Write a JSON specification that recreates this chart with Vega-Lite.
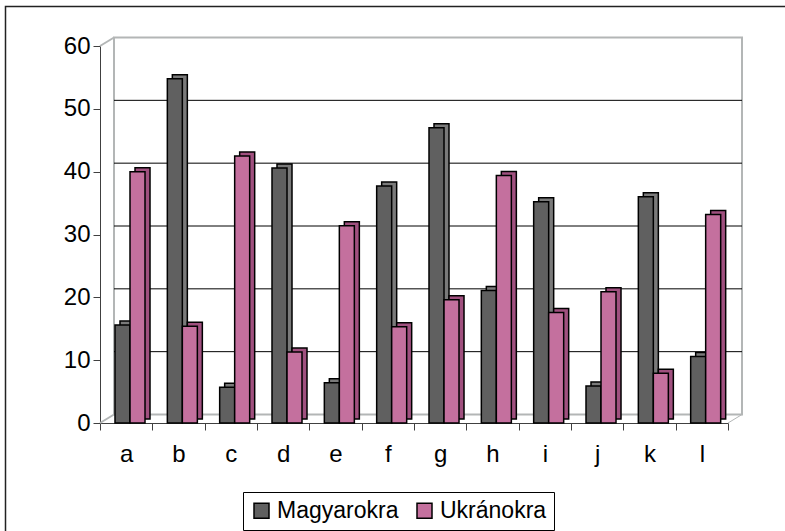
{
  "$schema": "https://vega.github.io/schema/vega-lite/v6.json",
  "autosize": {"type": "none"},
  "width": 628,
  "height": 377,
  "padding": {"left": 100, "top": 46, "right": 57, "bottom": 108},
  "background": "white",
  "config": {
    "view": {"stroke": null},
    "font": "Liberation Sans",
    "axis": {"labelFont": "Liberation Sans", "labelColor": "black", "labelFontSize": 24},
    "legend": {"labelFont": "Liberation Sans", "labelFontSize": 23}
  },
  "layer": [
    {
      "data": {"values": [{}]},
      "layer": [
        {
          "mark": {"type": "rect", "fill": null, "stroke": "#222222", "strokeWidth": 1.5, "xOffset": -94.5, "x2Offset": 120, "yOffset": 200, "y2Offset": -39.5},
          "encoding": {
            "x": {"datum": 0, "type": "quantitative", "scale": {"domain": [0, 1], "nice": false}, "axis": null},
            "x2": {"datum": 1},
            "y": {"datum": 0, "type": "quantitative"},
            "y2": {"datum": 60}
          }
        },
        {
          "mark": {"type": "rect", "fill": "white", "stroke": "#b3b6b6", "strokeWidth": 2, "xOffset": 14, "x2Offset": 14, "yOffset": -8.5, "y2Offset": -8.5},
          "encoding": {
            "x": {"datum": 0, "type": "quantitative"},
            "x2": {"datum": 1},
            "y": {"datum": 0, "type": "quantitative"},
            "y2": {"datum": 60}
          }
        },
        {
          "data": {"values": [{"v": 10}, {"v": 20}, {"v": 30}, {"v": 40}, {"v": 50}]},
          "mark": {"type": "rule", "color": "black", "strokeWidth": 1, "xOffset": 14, "x2Offset": 14, "yOffset": -8.5, "y2Offset": -8.5},
          "encoding": {
            "x": {"datum": 0, "type": "quantitative"},
            "x2": {"datum": 1},
            "y": {"field": "v", "type": "quantitative"},
            "y2": {"field": "v"}
          }
        },
        {
          "mark": {"type": "rule", "color": "#b3b6b6", "strokeWidth": 2, "x2Offset": 14, "y2Offset": -8.5},
          "encoding": {
            "x": {"datum": 0, "type": "quantitative"},
            "x2": {"datum": 0},
            "y": {"datum": 60, "type": "quantitative"},
            "y2": {"datum": 60}
          }
        },
        {
          "mark": {"type": "rule", "color": "#b3b6b6", "strokeWidth": 2, "x2Offset": 14, "y2Offset": -8.5},
          "encoding": {
            "x": {"datum": 0, "type": "quantitative"},
            "x2": {"datum": 0},
            "y": {"datum": 0, "type": "quantitative"},
            "y2": {"datum": 0}
          }
        },
        {
          "mark": {"type": "rule", "color": "#b3b6b6", "strokeWidth": 1, "x2Offset": 14, "y2Offset": -8.5},
          "encoding": {
            "x": {"datum": 1, "type": "quantitative"},
            "x2": {"datum": 1},
            "y": {"datum": 0, "type": "quantitative"},
            "y2": {"datum": 0}
          }
        }
      ]
    },
    {
      "data": {
        "values": [
          {"cat": "a", "series": "Magyarokra", "value": 15.6},
          {"cat": "a", "series": "Ukránokra", "value": 40.0},
          {"cat": "b", "series": "Magyarokra", "value": 54.8},
          {"cat": "b", "series": "Ukránokra", "value": 15.4},
          {"cat": "c", "series": "Magyarokra", "value": 5.7},
          {"cat": "c", "series": "Ukránokra", "value": 42.5},
          {"cat": "d", "series": "Magyarokra", "value": 40.6},
          {"cat": "d", "series": "Ukránokra", "value": 11.3},
          {"cat": "e", "series": "Magyarokra", "value": 6.4},
          {"cat": "e", "series": "Ukránokra", "value": 31.4},
          {"cat": "f", "series": "Magyarokra", "value": 37.7},
          {"cat": "f", "series": "Ukránokra", "value": 15.3},
          {"cat": "g", "series": "Magyarokra", "value": 47.0},
          {"cat": "g", "series": "Ukránokra", "value": 19.6},
          {"cat": "h", "series": "Magyarokra", "value": 21.1},
          {"cat": "h", "series": "Ukránokra", "value": 39.4},
          {"cat": "i", "series": "Magyarokra", "value": 35.2},
          {"cat": "i", "series": "Ukránokra", "value": 17.6},
          {"cat": "j", "series": "Magyarokra", "value": 5.9},
          {"cat": "j", "series": "Ukránokra", "value": 20.9},
          {"cat": "k", "series": "Magyarokra", "value": 36.0},
          {"cat": "k", "series": "Ukránokra", "value": 7.9},
          {"cat": "l", "series": "Magyarokra", "value": 10.6},
          {"cat": "l", "series": "Ukránokra", "value": 33.2}
        ]
      },
      "encoding": {
        "x": {
          "field": "cat", "type": "nominal", "sort": null,
          "scale": {"paddingInner": 0, "paddingOuter": 0},
          "axis": {"orient": "bottom", "title": null, "labelAngle": 0, "labelFontSize": 24, "labelPadding": 12, "tickBand": "extent", "tickSize": 7, "tickColor": "#404040", "domainColor": "#404040", "grid": false}
        },
        "y": {
          "field": "value", "type": "quantitative",
          "scale": {"domain": [0, 60], "nice": false},
          "axis": {"title": null, "values": [0, 10, 20, 30, 40, 50, 60], "labelFontSize": 24, "labelPadding": 3, "tickSize": 7, "tickColor": "#404040", "domainColor": "#404040", "grid": false}
        }
      },
      "layer": [
        {
          "mark": {"type": "bar", "stroke": "black", "strokeWidth": 1.5, "yOffset": -4, "y2Offset": -4},
          "encoding": {
            "xOffset": {
              "field": "series", "type": "nominal",
              "scale": {"paddingInner": 0, "paddingOuter": 0.744, "align": 0.896}
            },
            "fill": {
              "condition": {"test": "datum.series === 'Magyarokra'", "value": "#7a7a7a"},
              "value": "#a0507f"
            }
          }
        },
        {
          "mark": {"type": "bar", "stroke": "black", "strokeWidth": 1.5},
          "encoding": {
            "xOffset": {
              "field": "series", "type": "nominal",
              "scale": {"paddingInner": 0, "paddingOuter": 0.744, "align": 0.672}
            },
            "fill": {
              "field": "series", "type": "nominal",
              "scale": {"domain": ["Magyarokra", "Ukránokra"], "range": ["#606060", "#c4709e"]},
              "legend": {
                "title": null, "orient": "none", "legendX": 143, "legendY": 446,
                "direction": "horizontal", "strokeColor": "black", "padding": 7,
                "labelFontSize": 23, "labelColor": "black", "symbolType": "square", "symbolSize": 225,
                "symbolStrokeColor": "black", "symbolStrokeWidth": 1.5, "labelOffset": 4, "columnPadding": 14
              }
            }
          }
        }
      ],
      "resolve": {"scale": {"xOffset": "independent"}}
    }
  ],
  "resolve": {"scale": {"x": "independent"}, "axis": {"x": "independent"}}
}
